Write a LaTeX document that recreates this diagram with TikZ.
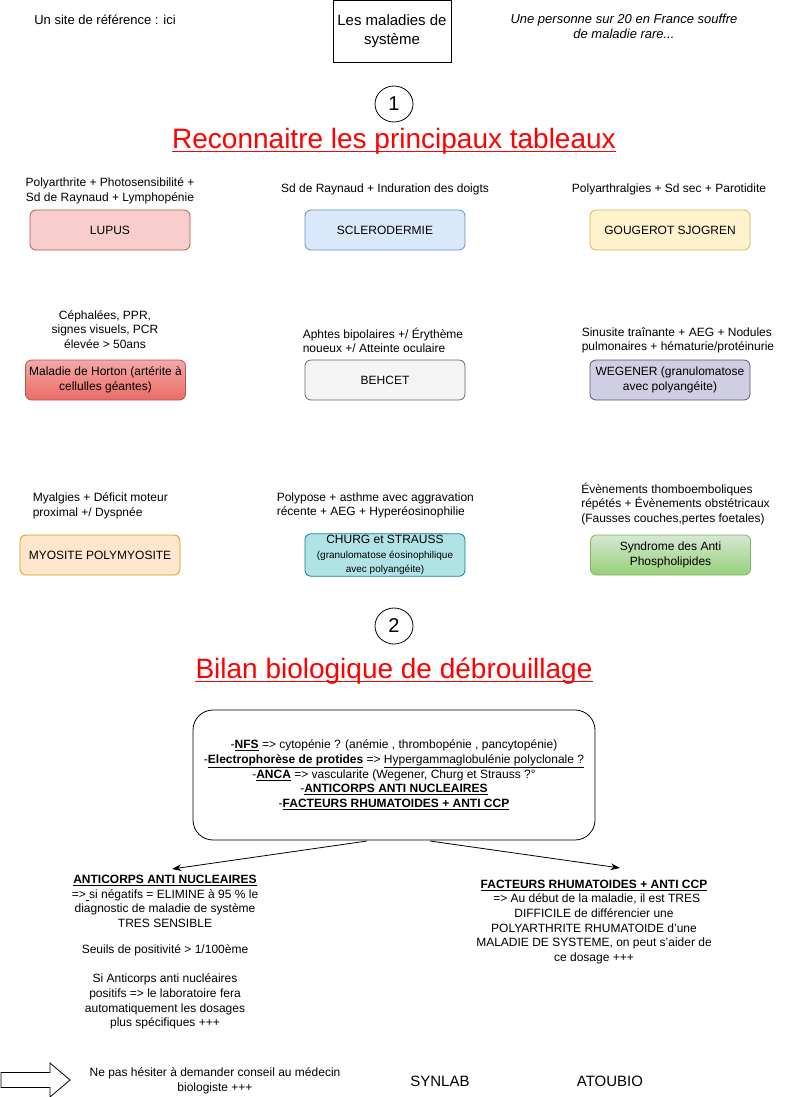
\documentclass[tikz,border=0pt]{standalone}
\usepackage{fontspec}
\setmainfont{Liberation Sans}
\usetikzlibrary{arrows.meta,shapes.geometric}
\definecolor{lupF}{HTML}{F8CECC}\definecolor{lupS}{HTML}{B85450}
\definecolor{sclF}{HTML}{DAE8FC}\definecolor{sclS}{HTML}{6C8EBF}
\definecolor{gouF}{HTML}{FFF2CC}\definecolor{gouS}{HTML}{D6B656}
\definecolor{horT}{HTML}{F4A9A7}\definecolor{horB}{HTML}{EA6B66}
\definecolor{behF}{HTML}{F5F5F5}\definecolor{behS}{HTML}{666666}
\definecolor{wegF}{HTML}{D0CEE2}\definecolor{wegS}{HTML}{56517E}
\definecolor{myoF}{HTML}{FFE6CC}\definecolor{myoS}{HTML}{D79B00}
\definecolor{chuF}{HTML}{B0E3E6}\definecolor{chuS}{HTML}{0E8088}
\definecolor{aplF}{HTML}{D5E8D4}\definecolor{aplB}{HTML}{97D077}\definecolor{aplS}{HTML}{82B366}
\definecolor{titleRed}{HTML}{FF0000}
\newcommand{\tw}{\fontsize{9}{11}\selectfont}
\newcommand{\ts}{\fontsize{7.5}{11}\selectfont}
\begin{document}
\begin{tikzpicture}[x=0.75pt,y=-0.75pt,
  txt/.style={align=center,font=\tw,inner sep=0pt},
  ltxt/.style={align=left,font=\tw,inner sep=0pt,anchor=west},
  dbox/.style={draw,rounded corners=4.5pt,minimum width=120pt,minimum height=30pt,align=center,font=\tw,inner sep=1pt,line width=0.6pt},
  ttl/.style={font=\fontsize{21}{25}\selectfont,text=titleRed,inner sep=0pt},
  uline/.style={draw=titleRed,line width=0.9pt},
  num/.style={draw,ellipse,minimum width=28.5pt,minimum height=27pt,inner sep=0pt,font=\fontsize{15}{18}\selectfont,line width=0.6pt},
  arr/.style={-{Stealth[length=7pt,width=5pt]},line width=0.6pt}]
\useasboundingbox (0,0) rectangle (791,1097);
% header
\node[txt,font=\fontsize{9.75}{12}\selectfont] (site) at (105,20) {Un site de référence : ici};
\node[draw,line width=0.6pt,minimum width=88.5pt,minimum height=46.5pt,align=center,font=\fontsize{11.25}{14}\selectfont,inner sep=0pt] (head) at (392,31) {Les maladies de\\système};
\node[txt,font=\fontsize{9.75}{11.25}\selectfont\itshape] (rare) at (624,26.5) {Une personne sur 20 en France souffre\\de maladie rare...};
% section 1
\node[num] (n1) at (394,104) {1};
\node[ttl,anchor=base] (t1) at (394,148) {Reconnaitre les principaux tableaux};
\draw[uline] ([yshift=-2.5pt]t1.base west) -- ([yshift=-2.5pt]t1.base east);
% row 1
\node[txt] (l1) at (110,190.5) {Polyarthrite + Photosensibilité +\\Sd de Raynaud + Lymphopénie};
\node[txt] (l2) at (385,189) {Sd de Raynaud + Induration des doigts};
\node[txt] (l3) at (669,189) {Polyarthralgies + Sd sec + Parotidite};
\node[dbox,fill=lupF,draw=lupS] (b1) at (110,230) {LUPUS};
\node[dbox,fill=sclF,draw=sclS] (b2) at (385,230) {SCLERODERMIE};
\node[dbox,fill=gouF,draw=gouS] (b3) at (670,230) {GOUGEROT SJOGREN};
% row 2
\node[txt] (l4) at (105,329.5) {Céphalées, PPR,\\signes visuels, PCR\\élevée > 50ans};
\node[ltxt] (l5) at (302.5,340.5) {Aphtes bipolaires +/ Érythème\\noueux +/ Atteinte oculaire};
\node[ltxt] (l6) at (581.5,340.5) {Sinusite traînante + AEG + Nodules\\pulmonaires + hématurie/protéinurie};
\node[dbox,top color=horT,bottom color=horB,draw=lupS] (b4) at (105.5,380) {Maladie de Horton (artérite à\\cellulles géantes)};
\node[dbox,fill=behF,draw=behS] (b5) at (385,380) {BEHCET};
\node[dbox,fill=wegF,draw=wegS] (b6) at (670,380) {WEGENER (granulomatose\\avec polyangéite)};
% row 3
\node[ltxt] (l7) at (32.5,505.5) {Myalgies + Déficit moteur\\proximal +/ Dyspnée};
\node[ltxt] (l8) at (276.5,505.5) {Polypose + asthme avec aggravation\\récente + AEG + Hyperéosinophilie};
\node[ltxt] (l9) at (581,504) {Évènements thomboemboliques\\répétés + Évènements obstétricaux\\(Fausses couches,pertes foetales)};
\node[dbox,fill=myoF,draw=myoS] (b7) at (100,555) {MYOSITE POLYMYOSITE};
\node[dbox,fill=chuF,draw=chuS,font=\ts] (b8) at (385,555) {{\tw CHURG et STRAUSS}\\(granulomatose éosinophilique\\avec polyangéite)};
\node[dbox,top color=aplF,bottom color=aplB,draw=aplS] (b9) at (670.5,555) {Syndrome des Anti\\Phospholipides};
% section 2
\node[num] (n2) at (394,626) {2};
\node[ttl,anchor=base] (t2) at (394,678) {Bilan biologique de débrouillage};
\draw[uline] ([yshift=-2.5pt]t2.base west) -- ([yshift=-2.5pt]t2.base east);
\node[draw,rounded corners=15pt,line width=0.6pt,minimum width=301.5pt,minimum height=97.5pt,align=center,font=\tw,inner sep=0pt] (bio) at (394,775) {-\textbf{\underline{NFS}} => cytopénie ? (anémie , thrombopénie , pancytopénie)\\
-\textbf{\underline{Electrophorèse de protides}} => \underline{Hypergammaglobulénie polyclonale ?}\\
-\textbf{\underline{ANCA}} => vascularite (Wegener, Churg et Strauss ?°\\
-\textbf{\underline{ANTICORPS ANTI NUCLEAIRES}}\\
-\textbf{\underline{FACTEURS RHUMATOIDES + ANTI CCP}}};
\coordinate (bl) at (367,841);
\coordinate (br) at (430,841);
\node[txt,anchor=north] (ana) at (165,875) {\textbf{\underline{ANTICORPS ANTI NUCLEAIRES}}\\
=>\underline{ }si négatifs = ELIMINE à 95 \% le\\diagnostic de maladie de système\\TRES SENSIBLE\\[8.5pt]
Seuils de positivité > 1/100ème\\[11pt]
Si Anticorps anti nucléaires\\positifs => le laboratoire fera\\automatiquement les dosages\\plus spécifiques +++};
\node[txt,anchor=north] (fr) at (594,879.5) {\textbf{\underline{FACTEURS RHUMATOIDES + ANTI CCP}}\\
\hspace*{4pt}=> Au début de la maladie, il est TRES\\DIFFICILE de différencier une\\POLYARTHRITE RHUMATOIDE d'une\\MALADIE DE SYSTEME, on peut s'aider de\\ce dosage +++};
\draw[arr] (bl) -- (172,869);
\draw[arr] (br) -- (620,868);
% bottom
\draw[line width=0.6pt] (1,1072.5) -- (50,1072.5) -- (50,1063) -- (70,1080) -- (50,1097) -- (50,1087.5) -- (1,1087.5) -- cycle;
\node[txt] (conseil) at (215,1080.5) {Ne pas hésiter à demander conseil au médecin\\biologiste +++};
\node[txt,font=\fontsize{11.25}{13}\selectfont] (syn) at (440,1081) {SYNLAB};
\node[txt,font=\fontsize{11.25}{13}\selectfont] (ato) at (610,1081) {ATOUBIO};
\end{tikzpicture}
\end{document}
